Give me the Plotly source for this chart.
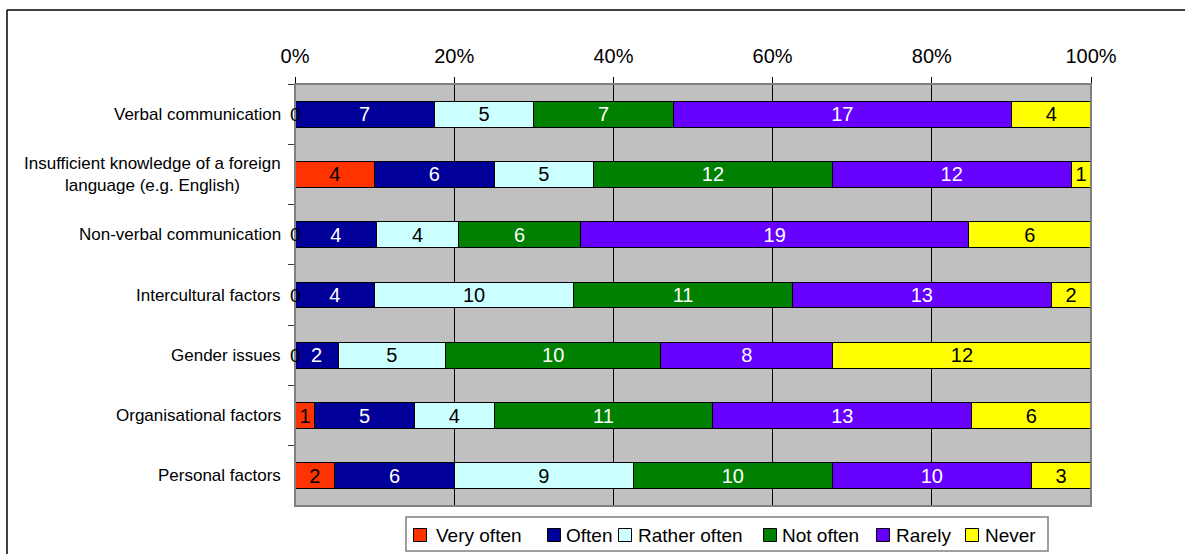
import plotly.graph_objects as go

# Survey categories (top to bottom) and answer counts per response level
categories = [
    "Verbal communication",
    "Insufficient knowledge of a foreign<br>language (e.g. English)",
    "Non-verbal communication",
    "Intercultural factors",
    "Gender issues",
    "Organisational factors",
    "Personal factors",
]
levels = ["Very often", "Often", "Rather often", "Not often", "Rarely", "Never"]

very_often = [0, 4, 0, 0, 0, 1, 2]
often = [7, 6, 4, 4, 2, 5, 6]
rather_often = [5, 5, 4, 10, 5, 4, 9]
not_often = [7, 12, 6, 11, 10, 11, 10]
rarely = [17, 12, 19, 13, 8, 13, 10]
never = [4, 1, 6, 2, 12, 6, 3]

series = [very_often, often, rather_often, not_often, rarely, never]
fill_colors = ["#FF3300", "#000099", "#CCFFFF", "#008000", "#6600FF", "#FFFF00"]
text_colors = ["black", "white", "black", "white", "white", "black"]

tick_vals = [0, 20, 40, 60, 80, 100]
tick_text = ["0%", "20%", "40%", "60%", "80%", "100%"]

FONT = "Liberation Sans, Arial, sans-serif"
W, H = 1185, 554
L, R, T, B = 295, 1091, 84, 506  # plot area in pixels

# legend layout: box edges and per-entry (swatch centre, text start) in pixels
LEG_BOX = (406, 1048, 517, 551)
LEG_SWATCH_X = [420, 554, 625, 770, 883, 972]
LEG_TEXT_X = [434, 564, 636, 780, 894, 983]
LEG_MID_Y = 535
SWATCH = 13

pw, ph = R - L, B - T
def px_x(p):
    return (p - L) / pw
def px_y(p):
    return (B - p) / ph

fig = go.Figure()
for name, vals, fc, tc in zip(levels, series, fill_colors, text_colors):
    fig.add_trace(go.Bar(
        y=categories,
        x=vals,
        name=name,
        orientation="h",
        marker=dict(color=fc, line=dict(color="black", width=1)),
        text=[str(v) if v else "" for v in vals],
        textposition="inside",
        insidetextanchor="middle",
        textangle=0,
        constraintext="none",
        textfont=dict(family=FONT, size=20, color=tc),
        cliponaxis=False,
        hoverinfo="skip",
        showlegend=False,
    ))

annotations = []
# zero-width segments still carry a "0" label on the axis line
for cat, v in zip(categories, very_often):
    if v == 0:
        annotations.append(dict(
            x=0, y=cat, xref="x", yref="y", text="0", showarrow=False,
            xanchor="center", yanchor="middle",
            font=dict(family=FONT, size=19, color="black"),
        ))
# category labels, centered line by line
for cat in categories:
    annotations.append(dict(
        x=0, y=cat, xref="paper", yref="y", text=cat, showarrow=False,
        xanchor="right", yanchor="middle", align="center", xshift=-12,
        font=dict(family=FONT, size=17, color="black"),
    ))

shapes = [
    # plot area frame
    dict(type="rect", xref="paper", yref="paper", x0=0, x1=1, y0=0, y1=1,
         line=dict(color="#808080", width=2), layer="above"),
    # outer chart frame (left and top edges)
    dict(type="line", xref="paper", yref="paper",
         x0=px_x(7), x1=px_x(7), y0=px_y(10), y1=px_y(600),
         line=dict(color="black", width=1.5)),
    dict(type="line", xref="paper", yref="paper",
         x0=px_x(7), x1=px_x(1200), y0=px_y(10), y1=px_y(10),
         line=dict(color="black", width=1.5)),
    # legend box
    dict(type="rect", xref="paper", yref="paper",
         x0=px_x(LEG_BOX[0]), x1=px_x(LEG_BOX[1]),
         y0=px_y(LEG_BOX[3]), y1=px_y(LEG_BOX[2]),
         line=dict(color="#808080", width=1.5), fillcolor="white"),
]

# legend entries
for name, fc, sx, tx in zip(levels, fill_colors, LEG_SWATCH_X, LEG_TEXT_X):
    shapes.append(dict(
        type="rect", xref="paper", yref="paper",
        x0=px_x(sx - SWATCH / 2), x1=px_x(sx + SWATCH / 2),
        y0=px_y(LEG_MID_Y + SWATCH / 2), y1=px_y(LEG_MID_Y - SWATCH / 2),
        line=dict(color="black", width=1), fillcolor=fc,
    ))
    annotations.append(dict(
        x=px_x(tx), y=px_y(LEG_MID_Y), xref="paper", yref="paper",
        text=name, showarrow=False, xanchor="left", yanchor="middle",
        font=dict(family=FONT, size=19, color="black"),
    ))

fig.update_layout(
    width=W, height=H,
    margin=dict(l=L, r=W - R, t=T, b=H - B, pad=0),
    barmode="stack",
    barnorm="percent",
    bargap=0.57,
    paper_bgcolor="white",
    plot_bgcolor="#C0C0C0",
    font=dict(family=FONT, size=17, color="black"),
    showlegend=False,
    uniformtext=dict(minsize=20, mode="show"),
    annotations=annotations,
    shapes=shapes,
)

fig.update_xaxes(
    side="top", range=[0, 100.0001],
    tickvals=tick_vals, ticktext=tick_text,
    tickfont=dict(family=FONT, size=20, color="black"),
    ticks="outside", ticklen=6, tickcolor="black", tickwidth=1,
    ticklabelstandoff=6,
    showgrid=True, gridcolor="black", gridwidth=1,
    showline=True, linecolor="black", linewidth=1,
    zeroline=False, fixedrange=True,
)
fig.update_yaxes(
    autorange="reversed",
    showticklabels=False,
    ticks="outside", tickson="boundaries", ticklen=6,
    tickcolor="#404040", tickwidth=1,
    showgrid=False,
    showline=True, linecolor="#404040", linewidth=1,
    zeroline=False, fixedrange=True,
)

fig.write_html("out.html", config=dict(displayModeBar=False))
